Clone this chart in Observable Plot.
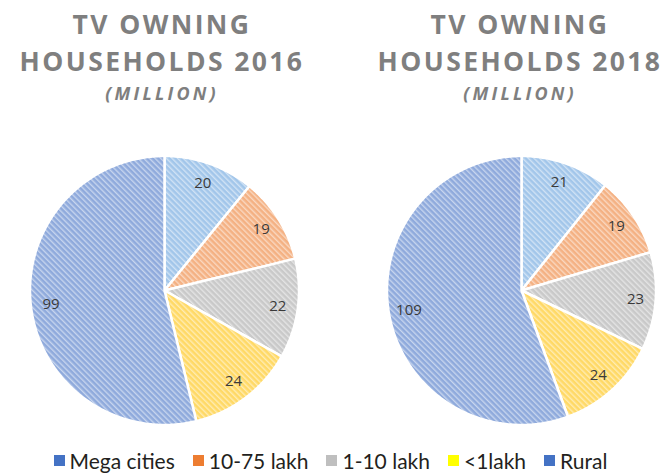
<!DOCTYPE html>
<html><head><meta charset="utf-8">
<script src="https://cdn.jsdelivr.net/npm/d3@7"></script>
<script src="https://cdn.jsdelivr.net/npm/@observablehq/plot@0.6"></script>
<style>
body{margin:0;background:#fff;}
#wrap{position:relative;width:661px;height:474px;overflow:hidden;font-family:"Open Sans",sans-serif;}
.title{position:absolute;top:6px;width:340px;text-align:center;color:#7f7f7f;font-weight:700;font-size:26.5px;letter-spacing:2.4px;line-height:37px;white-space:nowrap;}
.title .sub{display:block;font-style:italic;font-size:18px;letter-spacing:3.2px;line-height:20px;margin-top:3px;}
#chart{position:absolute;left:0;top:140px;}
#legend{position:absolute;left:0;top:448px;width:661px;display:flex;justify-content:center;align-items:center;font-family:Lato,sans-serif;font-size:21px;color:#231f20;}
#legend .it{display:flex;align-items:center;margin:0 9px;}
#legend .sw{width:11px;height:11px;margin-right:5px;}
</style></head>
<body><div id="wrap"></div>
<script>
const categories = ["Mega cities","10-75 lakh","1-10 lakh","<1lakh","Rural"];
const years = ["2016","2018"];
const values2016 = [20,19,22,24,99];
const values2018 = [21,19,23,24,109];
const sliceColors = ["#a2c6ea","#f4b183","#c9c9c9","#ffd966","#8faadc"];
const legendColors = ["#4472c4","#ed7d31","#bfbfbf","#ffff00","#4472c4"];

const wrap = document.getElementById("wrap");
const titleCenters = [162, 520];
years.forEach((yr,i)=>{
  const d = document.createElement("div");
  d.className = "title";
  d.style.left = (titleCenters[i]-170)+"px";
  d.innerHTML = `TV OWNING<br>HOUSEHOLDS ${yr}<span class="sub">(MILLION)</span>`;
  wrap.appendChild(d);
});

const W = 661, H = 300, R = 134.5;
const cx0 = 164, cx1 = 521, cy = 150;
const centers = [0, (cx1-cx0)/R];
const pie = d3.pie().sort(null).value(d=>d.v);
const marks = [];
const labels = [];
[values2016, values2018].forEach((vals, pi)=>{
  const arcs = pie(vals.map((v,i)=>({v, i})));
  arcs.forEach(a=>{
    const pts = [[centers[pi],0]];
    const n = Math.max(8, Math.ceil((a.endAngle-a.startAngle)/0.01));
    for(let k=0;k<=n;k++){
      const t = a.startAngle + (a.endAngle-a.startAngle)*k/n;
      pts.push([centers[pi]+Math.sin(t), Math.cos(t)]);
    }
    pts.push([centers[pi],0]);
    marks.push(Plot.line(pts,{x:d=>d[0],y:d=>d[1],fill:`url(#hatch${a.data.i})`,stroke:"white",strokeWidth:2.5,strokeLinejoin:"round"}));
    const m = (a.startAngle+a.endAngle)/2;
    labels.push({x:centers[pi]+0.85*Math.sin(m), y:0.85*Math.cos(m), t:String(a.data.v)});
  });
});
marks.push(Plot.text(labels,{x:"x",y:"y",text:"t",fontSize:15,fill:"#3a3a3a",fontFamily:"Open Sans"}));

const chart = Plot.plot({
  width: W, height: H, margin:0,
  x:{domain:[-cx0/R,(W-cx0)/R], range:[0,W], axis:null},
  y:{domain:[-cy/R,(H-cy)/R], range:[H,0], axis:null},
  marks
});
chart.id = "chart";
const ns = "http://www.w3.org/2000/svg";
const defs = document.createElementNS(ns,"defs");
sliceColors.forEach((c,i)=>{
  const p = document.createElementNS(ns,"pattern");
  p.setAttribute("id","hatch"+i);
  p.setAttribute("patternUnits","userSpaceOnUse");
  p.setAttribute("width","4"); p.setAttribute("height","4");
  p.setAttribute("patternTransform","rotate(-45)");
  const r1 = document.createElementNS(ns,"rect");
  r1.setAttribute("width","4"); r1.setAttribute("height","4"); r1.setAttribute("fill",c);
  const r2 = document.createElementNS(ns,"rect");
  r2.setAttribute("width","1.4"); r2.setAttribute("height","4"); r2.setAttribute("fill","white"); r2.setAttribute("opacity","0.5");
  p.appendChild(r1); p.appendChild(r2); defs.appendChild(p);
});
chart.insertBefore(defs, chart.firstChild);
wrap.appendChild(chart);

const lg = document.createElement("div");
lg.id = "legend";
categories.forEach((c,i)=>{
  const it = document.createElement("div"); it.className="it";
  const sw = document.createElement("div"); sw.className="sw"; sw.style.background=legendColors[i];
  const tx = document.createElement("span"); tx.textContent=c;
  it.appendChild(sw); it.appendChild(tx); lg.appendChild(it);
});
wrap.appendChild(lg);
</script></body></html>
